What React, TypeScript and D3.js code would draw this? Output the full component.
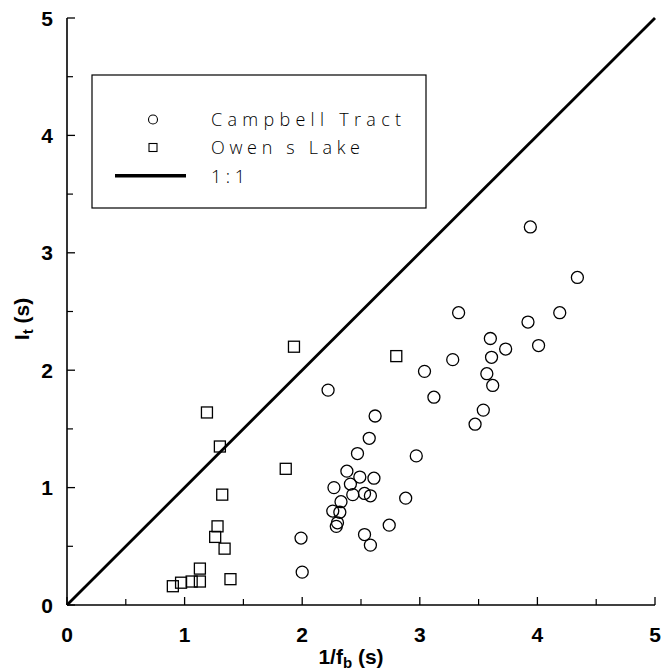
import React from "react";
import * as d3 from "d3";

const campbellX = [2.22, 3.04, 3.12, 2.62, 2.57, 2.47, 2.97, 2.38, 2.49, 2.61, 2.41, 2.27, 2.43, 2.53, 2.58, 2.88, 2.33, 2.26, 2.32, 2.30, 2.29, 2.74, 2.53, 2.58, 1.99, 2.00, 3.94, 4.34, 3.33, 4.19, 3.92, 3.60, 3.73, 4.01, 3.61, 3.28, 3.57, 3.62, 3.54, 3.47];
const campbellY = [1.83, 1.99, 1.77, 1.61, 1.42, 1.29, 1.27, 1.14, 1.09, 1.08, 1.03, 1.00, 0.94, 0.95, 0.93, 0.91, 0.88, 0.80, 0.79, 0.70, 0.67, 0.68, 0.60, 0.51, 0.57, 0.28, 3.22, 2.79, 2.49, 2.49, 2.41, 2.27, 2.18, 2.21, 2.11, 2.09, 1.97, 1.87, 1.66, 1.54];

const owensX = [1.93, 2.80, 1.19, 1.30, 1.86, 1.32, 1.28, 1.26, 1.34, 1.13, 1.39, 1.13, 1.06, 0.97, 0.90];
const owensY = [2.20, 2.12, 1.64, 1.35, 1.16, 0.94, 0.67, 0.58, 0.48, 0.31, 0.22, 0.20, 0.20, 0.19, 0.16];

const majorTicks = [0, 1, 2, 3, 4, 5];
const minorTicks = [0.5, 1.5, 2.5, 3.5, 4.5];
const legendLabels = ["Campbell Tract", "Owen s Lake", "1:1"];

export default function App() {
  const x = d3.scaleLinear().domain([0, 5]).range([67, 655]);
  const y = d3.scaleLinear().domain([0, 5]).range([605, 18]);
  const tickFont = "'Liberation Sans', Arial, sans-serif";
  const legendFont = "'Open Sans', 'DejaVu Sans', sans-serif";
  const line = d3.line<number>().x((d) => x(d)).y((d) => y(d));

  return (
    <svg
      width={669}
      height={670}
      style={{ position: "absolute", left: 0, top: 0, background: "#fff" }}
    >
      <rect x={0} y={0} width={669} height={670} fill="#fff" />
      {/* axes */}
      <line x1={x(0)} y1={y(0)} x2={x(5)} y2={y(0)} stroke="#000" strokeWidth={1.6} />
      <line x1={x(0)} y1={y(0)} x2={x(0)} y2={y(5)} stroke="#000" strokeWidth={1.6} />
      {majorTicks.map((t) => (
        <g key={"mx" + t}>
          <line x1={x(t)} x2={x(t)} y1={y(0)} y2={y(0) - 8} stroke="#000" strokeWidth={1.3} />
          <line x1={x(0)} x2={x(0) + 8} y1={y(t)} y2={y(t)} stroke="#000" strokeWidth={1.3} />
          <text x={x(t)} y={642} textAnchor="middle" fontFamily={tickFont} fontWeight="bold" fontSize={21}>
            {t}
          </text>
          <text x={53} y={y(t) + 7.5} textAnchor="end" fontFamily={tickFont} fontWeight="bold" fontSize={21}>
            {t}
          </text>
        </g>
      ))}
      {minorTicks.map((t) => (
        <g key={"mn" + t}>
          <line x1={x(t)} x2={x(t)} y1={y(0)} y2={y(0) - 6} stroke="#000" strokeWidth={1.2} />
          <line x1={x(0)} x2={x(0) + 6} y1={y(t)} y2={y(t)} stroke="#000" strokeWidth={1.2} />
        </g>
      ))}
      {/* axis titles */}
      <text x={351} y={664} textAnchor="middle" fontFamily={tickFont} fontWeight="bold" fontSize={21}>
        1/f<tspan fontSize={15} dy={4}>b</tspan>
        <tspan dy={-4}> (s)</tspan>
      </text>
      <text
        transform="translate(29,319) rotate(-90)"
        textAnchor="middle"
        fontFamily={tickFont}
        fontWeight="bold"
        fontSize={21}
      >
        I<tspan fontSize={15} dy={4}>t</tspan>
        <tspan dy={-4}> (s)</tspan>
      </text>
      {/* 1:1 line */}
      <path d={line([0, 5]) || ""} stroke="#000" strokeWidth={2.8} fill="none" />
      {/* data */}
      {campbellX.map((cx, i) => (
        <circle key={"c" + i} cx={x(cx)} cy={y(campbellY[i])} r={6} fill="none" stroke="#000" strokeWidth={1.3} />
      ))}
      {owensX.map((ox, i) => (
        <rect
          key={"o" + i}
          x={x(ox) - 5.5}
          y={y(owensY[i]) - 5.5}
          width={11}
          height={11}
          fill="none"
          stroke="#000"
          strokeWidth={1.3}
        />
      ))}
      {/* legend */}
      <rect x={92} y={75} width={334} height={133} fill="#fff" stroke="#000" strokeWidth={1.2} />
      <circle cx={153} cy={119.5} r={4.5} fill="none" stroke="#000" strokeWidth={1.1} />
      <rect x={149} y={143.5} width={8} height={8} fill="none" stroke="#000" strokeWidth={1.1} />
      <line x1={115} x2={186} y1={175.7} y2={175.7} stroke="#000" strokeWidth={3.5} />
      <text x={211} y={125.7} fontFamily={legendFont} fontWeight={300} fontSize={18} textLength={190} lengthAdjust="spacing" fill="#000">
        {legendLabels[0]}
      </text>
      <text x={211} y={154} fontFamily={legendFont} fontWeight={300} fontSize={18} textLength={149} lengthAdjust="spacing" fill="#000">
        {legendLabels[1]}
      </text>
      <text x={211} y={183.3} fontFamily={legendFont} fontWeight={300} fontSize={18} textLength={34} lengthAdjust="spacing" fill="#000">
        {legendLabels[2]}
      </text>
    </svg>
  );
}
